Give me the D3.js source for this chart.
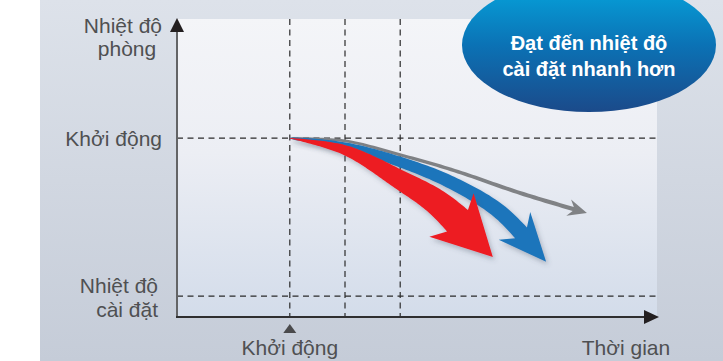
<!DOCTYPE html>
<html>
<head>
<meta charset="utf-8">
<script src="https://cdn.jsdelivr.net/npm/d3@7"></script>
<style>
  html, body { margin: 0; padding: 0; background: #ffffff; }
  svg { display: block; }
</style>
</head>
<body>
<svg id="chart" width="723" height="361"></svg>
<script>
// ---- data (time on x, room temperature on y, arbitrary units) ----
const timeMarks = [23.5, 35, 46.5];            // vertical guides
const startTime = 23.5;                        // compressor start
const tempLevels = [60, 7];                    // start temperature, set temperature
const tempLabels = [["Khởi động"], ["Nhiệt độ", "cài đặt"]];
const yTitle = ["Nhiệt độ", "phòng"];
const xTickLabel = "Khởi động";
const xTitle = "Thời gian";
const calloutLines = ["Đạt đến nhiệt độ", "cài đặt nhanh hơn"];

// cooling curves: [time, temperature]
const grayCurve = [[23.5, 60], [35, 59.1], [46.5, 54.4], [57.5, 49.3], [71.5, 41.6], [85.4, 34.9]];
const blueCurve = [[23.5, 60], [35, 57.4], [46.5, 52.0], [56.9, 45.3], [67.3, 35.2], [76.9, 18.5]];
const redCurve  = [[23.5, 60], [35, 56.0], [46.5, 46.0], [54.8, 37.6], [65.8, 20.1]];

// ---- layout ----
const W = 723, H = 361;
const plot = { left: 177, right: 657, top: 19, bottom: 317 };

const svg = d3.select("#chart");
const x = d3.scaleLinear().domain([0, 100]).range([plot.left, plot.right]);
const y = d3.scaleLinear().domain([0, 100]).range([plot.bottom, plot.top]);

const defs = svg.append("defs");
function vGrad(id, stops) {
  const g = defs.append("linearGradient").attr("id", id)
    .attr("x1", 0).attr("y1", 0).attr("x2", 0).attr("y2", 1);
  stops.forEach(([o, c]) => g.append("stop").attr("offset", o).attr("stop-color", c));
}
vGrad("bgGrad", [[0, "#dde2ea"], [1, "#c5ccd8"]]);
vGrad("panelGrad", [[0, "#f4f5f8"], [0.45, "#eceef4"], [1, "#d3dcea"]]);
vGrad("calloutGrad", [[0, "#05a8df"], [0.5, "#0b72b5"], [1, "#1b4a8a"]]);

const shadow = defs.append("filter").attr("id", "shadow")
  .attr("x", "-20%").attr("y", "-20%").attr("width", "140%").attr("height", "140%");
shadow.append("feDropShadow").attr("dx", 2).attr("dy", 3)
  .attr("stdDeviation", 2.5).attr("flood-color", "#4a5568").attr("flood-opacity", 0.35);

// backgrounds
svg.append("rect").attr("x", 40).attr("y", 0).attr("width", W - 40).attr("height", H)
  .attr("fill", "url(#bgGrad)");
svg.append("rect").attr("x", plot.left).attr("y", plot.top)
  .attr("width", plot.right - plot.left).attr("height", plot.bottom - plot.top)
  .attr("fill", "url(#panelGrad)");

// dashed guides
const dash = "6,4.5";
svg.append("g").selectAll("line").data(timeMarks).join("line")
  .attr("x1", d => x(d)).attr("x2", d => x(d))
  .attr("y1", plot.top).attr("y2", plot.bottom)
  .attr("stroke", "#2b2b2b").attr("stroke-width", 1.2).attr("stroke-dasharray", dash);
svg.append("g").selectAll("line").data(tempLevels).join("line")
  .attr("x1", plot.left).attr("x2", plot.right)
  .attr("y1", d => y(d)).attr("y2", d => y(d))
  .attr("stroke", "#2b2b2b").attr("stroke-width", 1.2).attr("stroke-dasharray", dash);

// axes with arrow heads
svg.append("line").attr("x1", plot.left).attr("x2", plot.left)
  .attr("y1", plot.bottom).attr("y2", 30)
  .attr("stroke", "#636466").attr("stroke-width", 2);
svg.append("path")
  .attr("d", `M${plot.left},18 L${plot.left + 7},32 L${plot.left - 7},32 Z`)
  .attr("fill", "#231f20");
svg.append("line").attr("x1", plot.left - 1).attr("x2", 646)
  .attr("y1", plot.bottom).attr("y2", plot.bottom)
  .attr("stroke", "#2f2f30").attr("stroke-width", 2);
svg.append("path")
  .attr("d", `M659,${plot.bottom} L644,${plot.bottom - 7} L644,${plot.bottom + 7} Z`)
  .attr("fill", "#231f20");

// labels
const labelColor = "#4f5052";
const font = "'Liberation Sans', Arial, sans-serif";
function label(txt, tx, ty, anchor) {
  svg.append("text").attr("x", tx).attr("y", ty).attr("text-anchor", anchor)
    .attr("font-family", font).attr("font-size", 21).attr("fill", labelColor).text(txt);
}
label(yTitle[0], 162, 33, "end");
label(yTitle[1], 127, 56, "middle");
label(tempLabels[0][0], 162, y(tempLevels[0]) + 8, "end");
label(tempLabels[1][0], 158, 293, "end");
label(tempLabels[1][1], 158, 317, "end");
label(xTickLabel, x(startTime), 355, "middle");
label(xTitle, 626, 355, "middle");
svg.append("path")
  .attr("d", `M${x(startTime)},324 L${x(startTime) + 6.5},333 L${x(startTime) - 6.5},333 Z`)
  .attr("fill", "#4a4a4c");

// tapered arrows along a smooth centre line
const lineGen = d3.line().x(d => x(d[0])).y(d => y(d[1])).curve(d3.curveCatmullRom.alpha(0.5));
function taperedArrow(data, opt) {
  const tmp = svg.append("path").attr("d", lineGen(data)).attr("fill", "none");
  const node = tmp.node();
  const L = node.getTotalLength();
  const pt = s => node.getPointAtLength(Math.max(0, Math.min(L, s)));
  tmp.remove();

  const tip = pt(L);
  const back = pt(L - opt.headLen);
  let dx = tip.x - back.x, dy = tip.y - back.y;
  const dl = Math.hypot(dx, dy); dx /= dl; dy /= dl;
  const nx = -dy, ny = dx;

  const bodyEnd = L - opt.headLen * opt.joint;
  const n = 80;
  const left = [], right = [];
  for (let i = 0; i <= n; i++) {
    const s = bodyEnd * i / n;
    const p = pt(s);
    const q = pt(s + 0.5), r = pt(s - 0.5);
    let tx = q.x - r.x, ty = q.y - r.y;
    const tl = Math.hypot(tx, ty) || 1; tx /= tl; ty /= tl;
    const w = (opt.w0 + (opt.w1 - opt.w0) * Math.pow(s / bodyEnd, opt.pow)) / 2;
    left.push([p.x - ty * w, p.y + tx * w]);
    right.push([p.x + ty * w, p.y - tx * w]);
  }
  const base = [tip.x - dx * opt.headLen, tip.y - dy * opt.headLen];
  const pts = left.concat([
    [base[0] + nx * opt.headW, base[1] + ny * opt.headW],
    [tip.x, tip.y],
    [base[0] - nx * opt.headW, base[1] - ny * opt.headW]
  ], right.reverse());
  return "M" + pts.map(p => p[0].toFixed(2) + "," + p[1].toFixed(2)).join("L") + "Z";
}

svg.append("path")
  .attr("d", taperedArrow(grayCurve, { w0: 1.5, w1: 4.2, pow: 0.5, headLen: 19, headW: 8.5, joint: 0.75 }))
  .attr("fill", "#808285");
svg.append("path")
  .attr("d", taperedArrow(blueCurve, { w0: 0.5, w1: 16, pow: 0.55, headLen: 48, headW: 21, joint: 0.8 }))
  .attr("fill", "#1b75bb").attr("filter", "url(#shadow)");
svg.append("path")
  .attr("d", taperedArrow(redCurve, { w0: 0.5, w1: 30, pow: 0.95, headLen: 59, headW: 31, joint: 0.86 }))
  .attr("fill", "#ed1c24").attr("filter", "url(#shadow)");

// callout
svg.append("ellipse").attr("cx", 589).attr("cy", 45).attr("rx", 127).attr("ry", 67)
  .attr("fill", "url(#calloutGrad)");
svg.append("g").selectAll("text").data(calloutLines).join("text")
  .attr("x", 589).attr("y", (d, i) => 50 + i * 26)
  .attr("text-anchor", "middle").attr("font-family", font)
  .attr("font-weight", "bold").attr("font-size", 20).attr("fill", "#ffffff")
  .text(d => d);
</script>
</body>
</html>
